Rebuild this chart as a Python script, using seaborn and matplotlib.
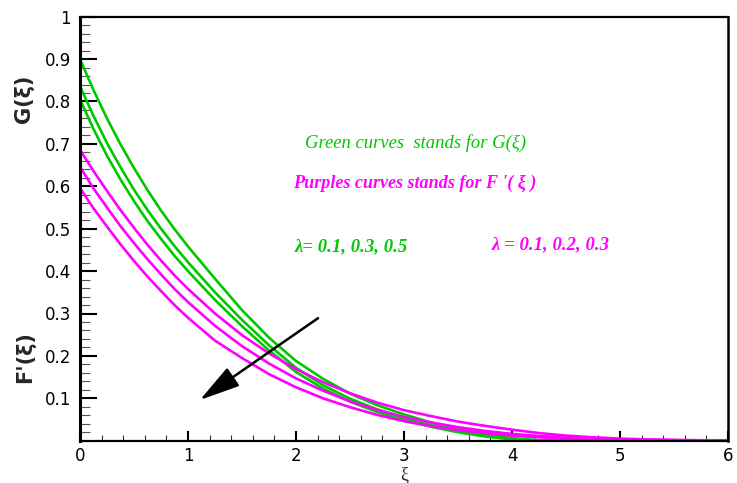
import numpy as np
import pandas as pd
import seaborn as sns
import matplotlib
matplotlib.use("Agg")
import matplotlib.pyplot as plt
from matplotlib.ticker import MultipleLocator

# ---------------- data ----------------
xi = [0.0, 0.125, 0.25, 0.375, 0.5, 0.625, 0.75, 0.875, 1.0, 1.25, 1.5, 1.75, 2.0, 2.25, 2.5,
      2.75, 3.0, 3.25, 3.5, 3.75, 4.0, 4.25, 4.5, 4.75, 5.0, 5.25, 5.5, 5.75, 6.0]

G_1 = [0.900, 0.827, 0.760, 0.699, 0.643, 0.591, 0.543, 0.499, 0.458, 0.382, 0.308, 0.243, 0.188,
       0.146, 0.111, 0.084, 0.062, 0.043, 0.027, 0.015, 0.006, 0.001, 0.0, 0.0, 0.0, 0.0, 0.0, 0.0, 0.0]
G_2 = [0.836, 0.766, 0.702, 0.645, 0.592, 0.544, 0.500, 0.459, 0.421, 0.350, 0.285, 0.225, 0.172,
       0.131, 0.099, 0.074, 0.054, 0.037, 0.023, 0.012, 0.004, 0.0, 0.0, 0.0, 0.0, 0.0, 0.0, 0.0, 0.0]
G_3 = [0.805, 0.735, 0.672, 0.616, 0.565, 0.518, 0.476, 0.436, 0.400, 0.332, 0.270, 0.213, 0.162,
       0.123, 0.092, 0.068, 0.049, 0.033, 0.020, 0.010, 0.003, 0.0, 0.0, 0.0, 0.0, 0.0, 0.0, 0.0, 0.0]
F_1 = [0.686, 0.636, 0.589, 0.544, 0.502, 0.462, 0.425, 0.390, 0.358, 0.300, 0.249, 0.206, 0.169,
       0.138, 0.112, 0.090, 0.072, 0.058, 0.045, 0.035, 0.026, 0.018, 0.012, 0.008, 0.005, 0.003,
       0.002, 0.001, 0.001]
F_2 = [0.646, 0.595, 0.550, 0.506, 0.466, 0.428, 0.392, 0.358, 0.327, 0.271, 0.223, 0.182, 0.147,
       0.118, 0.093, 0.073, 0.056, 0.043, 0.032, 0.023, 0.016, 0.011, 0.007, 0.005, 0.003, 0.002,
       0.001, 0.001, 0.0]
F_3 = [0.596, 0.548, 0.505, 0.463, 0.424, 0.387, 0.353, 0.320, 0.290, 0.236, 0.195, 0.157, 0.126,
       0.100, 0.079, 0.061, 0.046, 0.034, 0.025, 0.018, 0.012, 0.008, 0.005, 0.003, 0.002, 0.001,
       0.001, 0.0, 0.0]

series_names = ["G1", "G2", "G3", "F1", "F2", "F3"]
series_vals = [G_1, G_2, G_3, F_1, F_2, F_3]
GREEN = "#00c800"
MAGENTA = "#ff00ff"
palette = {"G1": GREEN, "G2": GREEN, "G3": GREEN,
           "F1": MAGENTA, "F2": MAGENTA, "F3": MAGENTA}

x_ticks = [0, 1, 2, 3, 4, 5, 6]
x_tick_labels = ["0", "1", "2", "3", "4", "5", "6"]
y_ticks = [0.1, 0.2, 0.3, 0.4, 0.5, 0.6, 0.7, 0.8, 0.9, 1.0]
y_tick_labels = ["0.1", "0.2", "0.3", "0.4", "0.5", "0.6", "0.7", "0.8", "0.9", "1"]

df = pd.DataFrame({
    "xi": np.tile(xi, len(series_names)),
    "value": np.concatenate(series_vals),
    "curve": np.repeat(series_names, len(xi)),
})

# ---------------- plot ----------------
sns.set_style("white")
plt.rcParams["font.family"] = ["DejaVu Sans"]

fig = plt.figure(figsize=(7.37, 4.83), dpi=100)
ax = fig.add_axes([80 / 737, (483 - 440.7) / 483, (728 - 80) / 737, (440.7 - 16.7) / 483])

sns.lineplot(data=df, x="xi", y="value", hue="curve", palette=palette,
             linewidth=1.9, legend=False, ax=ax, sort=False)

ax.set_xlim(0, 6)
ax.set_ylim(0, 1)
ax.set_xticks(x_ticks)
ax.set_xticklabels(x_tick_labels)
ax.set_yticks(y_ticks)
ax.set_yticklabels(y_tick_labels)
ax.xaxis.set_minor_locator(MultipleLocator(0.2))
ax.yaxis.set_minor_locator(MultipleLocator(0.02))

ax.tick_params(axis="y", which="major", direction="in", length=12, width=1.5,
               labelsize=12, pad=6.5, colors="black", left=True)
ax.tick_params(axis="y", which="minor", direction="in", length=7, width=0.8,
               color="#555555", left=True)
ax.tick_params(axis="x", which="major", direction="in", length=7, width=1.5,
               labelsize=12, pad=4.3, colors="black", bottom=True)
ax.tick_params(axis="x", which="minor", direction="in", length=4, width=0.8,
               color="#333333", bottom=True)

for side, lw in [("left", 2.2), ("bottom", 1.6), ("top", 1.6), ("right", 1.8)]:
    ax.spines[side].set_visible(True)
    ax.spines[side].set_linewidth(lw)
    ax.spines[side].set_color("black")

ax.set_xlabel("ξ", fontsize=13, family=["Liberation Serif", "DejaVu Serif"], labelpad=1)
ax.set_ylabel("")

# rotated y labels
fig.text(24 / 737, (483 - 99) / 483, "G(ξ)", rotation=90, ha="center", va="center",
         fontsize=15, fontweight="bold", family=["DejaVu Sans"])
fig.text(25 / 737, (483 - 356.7) / 483, "F'(ξ)", rotation=90, ha="center", va="center",
         fontsize=15, fontweight="bold", family=["DejaVu Sans"])

serif = ["Liberation Serif", "DejaVu Serif"]
ax.text(2.083, 0.703, "Green curves  stands for G(ξ)", color=GREEN, fontsize=13.4,
        style="italic", family=serif, ha="left", va="center")
ax.text(1.969, 0.608, "Purples curves stands for F '( ξ )", color=MAGENTA, fontsize=13.1,
        style="italic", fontweight="bold", family=serif, ha="left", va="center")
ax.text(1.99, 0.457, "λ= 0.1, 0.3, 0.5", color=GREEN, fontsize=13.5,
        style="italic", fontweight="bold", family=serif, ha="left", va="center")
ax.text(3.81, 0.462, "λ = 0.1, 0.2, 0.3", color=MAGENTA, fontsize=13.5,
        style="italic", fontweight="bold", family=serif, ha="left", va="center")

ax.annotate("", xy=(1.11, 0.096), xytext=(2.204, 0.289),
            arrowprops=dict(arrowstyle="-|>,head_length=1.0,head_width=0.27",
                            mutation_scale=25, color="black", lw=1.8,
                            shrinkA=0, shrinkB=0))

fig.savefig("out.png", dpi=100, facecolor="white")
